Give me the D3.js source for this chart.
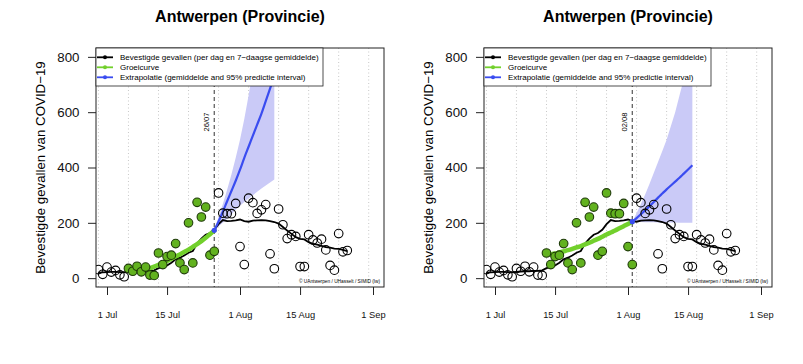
<!DOCTYPE html>
<html>
<head>
<meta charset="utf-8">
<script src="https://cdn.jsdelivr.net/npm/d3@7"></script>
<style>
  body { margin: 0; background: #fff; }
  text { font-family: "Liberation Sans", Arial, Helvetica, sans-serif; }
</style>
</head>
<body>
<svg id="chart" width="803" height="364"></svg>
<script>
// daily confirmed cases, Antwerpen province, starting 29 Jun 2020
const firstDay = "2020-06-29";
const cases = [
  31, 14, 40, 22, 28, 12, 5,
  35, 25, 43, 23, 40, 11, 10,
  91, 49, 78, 83, 125, 55, 31,
  200, 55, 274, 221, 257, 83, 97,
  308, 235, 233, 233, 270, 114, 49,
  289, 273, 234, 247, 266, 88, 34,
  250, 193, 143, 157, 151, 42, 42,
  157, 138, 127, 141, 102, 46, 29,
  161, 95, 100
];
// 7-day average (black line)
const avg7 = [
  20, 21, 22, 23, 23, 22, 22, 23, 24, 25, 25, 26, 26, 28,
  36, 40, 46, 56, 68, 74, 82, 92, 98, 125, 143, 157, 163, 175,
  195, 210, 206, 207, 209, 212, 206, 204, 208, 209, 210, 209, 206, 203,
  197, 185, 172, 160, 148, 142, 140, 130, 124, 121, 117, 112, 110, 107,
  106, 102, 98
];

// panel 1: fit window 06/07 - 26/07
const cutoffA = "2020-07-26";
const fitStartA = "2020-07-06";
const growthStartA = "2020-07-10";
const growthA = [31, 36, 42, 48, 55, 62, 70, 78, 86, 95, 103, 113, 123, 134, 146, 159, 172];
const extrapA = [173, 205, 240, 278, 315, 352, 392, 435, 475, 515, 555, 595, 640, 685, 730];
const lowerA  = [173, 188, 200, 215, 230, 248, 262, 275, 288, 300, 312, 324, 335, 346, 357];
const upperA  = [173, 220, 268, 320, 375, 435, 500, 575, 660, 750, 850, 960, 1080, 1200, 1330];

// panel 2: fit window 13/07 - 02/08
const cutoffB = "2020-08-02";
const fitStartB = "2020-07-13";
const growthStartB = "2020-07-14";
const growthB = [86, 89, 93, 97, 101, 106, 111, 116, 122, 128, 135, 142, 150, 158, 165, 172, 180, 188, 196, 204];
const extrapB = [204, 217, 231, 245, 260, 275, 291, 306, 321, 335, 349, 363, 378, 393, 408];
const lowerB  = [204, 203, 203, 202, 202, 202, 201, 201, 201, 201, 201, 200, 200, 200, 200];
const upperB  = [204, 235, 268, 302, 340, 380, 420, 460, 500, 550, 600, 660, 720, 780, 840];

const yTicks = [0, 200, 400, 600, 800];
const xTicks = ["2020-07-01", "2020-07-15", "2020-08-01", "2020-08-15", "2020-09-01"];
const legendLabels = [
  "Bevestigde gevallen (per dag en 7\u2212daagse gemiddelde)",
  "Groeicurve",
  "Extrapolatie (gemiddelde and 95% predictie interval)"
];
const title = "Antwerpen (Provincie)";

const panels = [
  {ox: 0,   cutoff: cutoffA, fitStart: fitStartA, gStart: growthStartA, growth: growthA, extrap: extrapA, lower: lowerA, upper: upperA},
  {ox: 388, cutoff: cutoffB, fitStart: fitStartB, gStart: growthStartB, growth: growthB, extrap: extrapB, lower: lowerB, upper: upperB}
];

const parse = d3.timeParse("%Y-%m-%d");
const day0 = parse(firstDay);
const dayAt = i => d3.timeDay.offset(day0, i);

const GREEN_PT = "#62b21f", GREEN_LINE = "#72d02c", BLUE = "#3a4cf0", BAND = "#cacaf7";

const svg = d3.select("#chart");

// plot box in px (left panel), x range extended like R's 4%
const box = {l: 96, r: 384, t: 48, b: 287};
const pxPerDay = (373 - 107) / 62;
const jul1 = parse("2020-07-01"), sep1 = parse("2020-09-01");
const xlim = [new Date(+jul1 - (107 - box.l) / pxPerDay * 864e5), new Date(+sep1 + (box.r - 373) / pxPerDay * 864e5)];

panels.forEach((p, pi) => {
  const ox = p.ox;
  const x = d3.scaleTime().domain(xlim).range([box.l + ox, box.r + ox]);
  const y = d3.scaleLinear().domain([-32, 832]).range([box.b, box.t]);

  const g = svg.append("g");
  const clipId = "clip" + pi;
  g.append("clipPath").attr("id", clipId)
    .append("rect")
    .attr("x", box.l + ox).attr("y", box.t)
    .attr("width", box.r - box.l).attr("height", box.b - box.t);

  const plot = g.append("g").attr("clip-path", `url(#${clipId})`);

  // weekly dotted gridlines
  plot.selectAll("line.grid")
    .data(d3.timeMonday.range(xlim[0], xlim[1]))
    .enter().append("line")
    .attr("class", "grid")
    .attr("x1", d => x(d)).attr("x2", d => x(d))
    .attr("y1", box.t).attr("y2", box.b)
    .attr("stroke", "#c8c8c8")
    .attr("stroke-width", 1)
    .attr("stroke-dasharray", "1,2.5");

  const cut = parse(p.cutoff);
  const fitStart = parse(p.fitStart);
  const gStart = parse(p.gStart);

  // cutoff line
  plot.append("line")
    .attr("x1", x(cut)).attr("x2", x(cut))
    .attr("y1", box.t).attr("y2", box.b)
    .attr("stroke", "#555")
    .attr("stroke-width", 1.2)
    .attr("stroke-dasharray", "4,3");

  // prediction band
  const band = p.lower.map((lo, i) => ({d: d3.timeDay.offset(cut, i), lo, hi: p.upper[i]}));
  plot.append("path")
    .datum(band)
    .attr("fill", BAND)
    .attr("d", d3.area().x(d => x(d.d)).y0(d => y(d.lo)).y1(d => y(d.hi)));

  // 7-day average
  plot.append("path")
    .datum(avg7.map((v, i) => ({d: dayAt(i), v})))
    .attr("fill", "none")
    .attr("stroke", "#000")
    .attr("stroke-width", 1.8)
    .attr("d", d3.line().x(d => x(d.d)).y(d => y(d.v)));

  // growth curve
  plot.append("path")
    .datum(p.growth.map((v, i) => ({d: d3.timeDay.offset(gStart, i), v})))
    .attr("fill", "none")
    .attr("stroke", GREEN_LINE)
    .attr("stroke-width", 4.5)
    .attr("stroke-linecap", "round")
    .attr("d", d3.line().curve(d3.curveMonotoneX).x(d => x(d.d)).y(d => y(d.v)));

  // extrapolation
  plot.append("path")
    .datum(p.extrap.map((v, i) => ({d: d3.timeDay.offset(cut, i), v})))
    .attr("fill", "none")
    .attr("stroke", BLUE)
    .attr("stroke-width", 2.2)
    .attr("d", d3.line().curve(d3.curveMonotoneX).x(d => x(d.d)).y(d => y(d.v)));

  plot.append("circle")
    .attr("cx", x(cut)).attr("cy", y(p.extrap[0]))
    .attr("r", 2.6).attr("fill", BLUE);

  // daily points
  plot.selectAll("circle.pt")
    .data(cases.map((v, i) => ({d: dayAt(i), v})))
    .enter().append("circle")
    .attr("class", "pt")
    .attr("cx", d => x(d.d)).attr("cy", d => y(d.v))
    .attr("r", 4.3)
    .attr("fill", d => (d.d >= fitStart && d.d <= cut) ? GREEN_PT : "none")
    .attr("stroke", d => (d.d >= fitStart && d.d <= cut) ? "#1e3a08" : "#000")
    .attr("stroke-width", 1.1);

  // cutoff label
  g.append("text")
    .attr("transform", `translate(${x(cut) - 5.5},122) rotate(-90)`)
    .attr("text-anchor", "middle")
    .attr("font-size", 7.6)
    .text(d3.timeFormat("%d/%m")(cut));

  // box
  g.append("rect")
    .attr("x", box.l + ox).attr("y", box.t)
    .attr("width", box.r - box.l).attr("height", box.b - box.t)
    .attr("fill", "none").attr("stroke", "#222").attr("stroke-width", 1);

  // legend
  const leg = g.append("g");
  leg.append("rect")
    .attr("x", box.l + ox).attr("y", box.t)
    .attr("width", 227).attr("height", 38)
    .attr("fill", "#fff").attr("stroke", "#222").attr("stroke-width", 0.8);
  const legColors = ["#000", GREEN_LINE, BLUE];
  legendLabels.forEach((lab, i) => {
    const ly = 57.3 + i * 10;
    leg.append("line")
      .attr("x1", 97 + ox).attr("x2", 113 + ox)
      .attr("y1", ly).attr("y2", ly)
      .attr("stroke", legColors[i]).attr("stroke-width", 1.8);
    leg.append("circle")
      .attr("cx", 105 + ox).attr("cy", ly).attr("r", 2)
      .attr("fill", legColors[i]);
    leg.append("text")
      .attr("x", 120 + ox).attr("y", ly)
      .attr("dy", "0.35em")
      .attr("font-size", 8)
      .text(lab);
  });

  // axes
  const yAxis = g.append("g")
    .attr("transform", `translate(${box.l + ox},0)`)
    .call(d3.axisLeft(y).tickValues(yTicks).tickSize(8).tickPadding(8.5));
  yAxis.select(".domain").remove();
  yAxis.selectAll("line").attr("stroke", "#222");
  yAxis.selectAll("text").attr("font-size", 13.3).attr("font-family", "Liberation Sans, Arial, sans-serif").attr("fill", "#111");

  const xAxis = g.append("g")
    .attr("transform", `translate(0,${box.b})`)
    .call(d3.axisBottom(x).tickValues(xTicks.map(parse)).tickSize(8).tickPadding(16)
      .tickFormat(d3.timeFormat("%-d %b")));
  xAxis.select(".domain").remove();
  xAxis.selectAll("line").attr("stroke", "#222");
  xAxis.selectAll("text").attr("font-size", 9.3).attr("font-family", "Liberation Sans, Arial, sans-serif").attr("fill", "#111");

  // credit
  g.append("text")
    .attr("x", 380 + ox).attr("y", 283)
    .attr("text-anchor", "end")
    .attr("font-size", 4.8)
    .text("\u00a9 UAntwerpen / UHasselt / SIMID (lw)");

  // title and y label
  g.append("text")
    .attr("x", 240 + ox).attr("y", 22)
    .attr("text-anchor", "middle")
    .attr("font-size", 16).attr("font-weight", "bold")
    .text(title);

  g.append("text")
    .attr("transform", `translate(${45 + ox},${(box.t + box.b) / 2}) rotate(-90)`)
    .attr("text-anchor", "middle")
    .attr("font-size", 13.3)
    .text("Bevestigde gevallen van COVID\u221219");
});
</script>
</body>
</html>
